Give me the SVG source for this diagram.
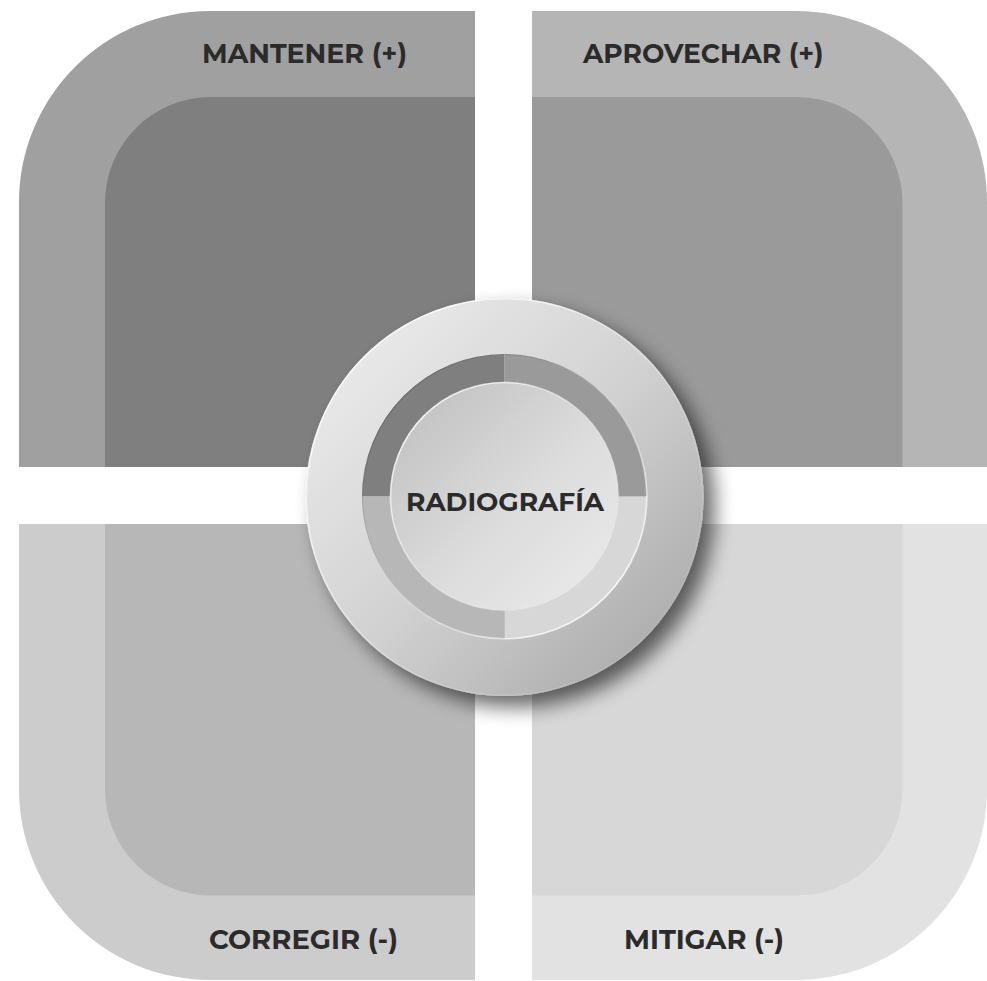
<svg xmlns="http://www.w3.org/2000/svg" width="987" height="981" viewBox="0 0 987 981">
  <defs>
    <style>
      .lbl { font-family: "Montserrat", "Liberation Sans", "DejaVu Sans", sans-serif; font-weight: 700; fill: #2b2b2b; }
    </style>
    <filter id="shadow" x="-30%" y="-30%" width="160%" height="160%">
      <feGaussianBlur in="SourceAlpha" stdDeviation="10"/>
      <feOffset dx="11" dy="11" result="b"/>
      <feComponentTransfer><feFuncA type="linear" slope="0.6"/></feComponentTransfer>
      <feMerge><feMergeNode/><feMergeNode in="SourceGraphic"/></feMerge>
    </filter>
    <linearGradient id="outerG" x1="0" y1="0" x2="1" y2="1">
      <stop offset="0" stop-color="#f1f1f1"/>
      <stop offset="0.5" stop-color="#d2d2d2"/>
      <stop offset="1" stop-color="#a2a2a2"/>
    </linearGradient>
    <linearGradient id="innerG" x1="0" y1="0" x2="1" y2="1">
      <stop offset="0" stop-color="#bdbdbd"/>
      <stop offset="0.55" stop-color="#dcdcdc"/>
      <stop offset="1" stop-color="#ececec"/>
    </linearGradient>
    <linearGradient id="hiTL" x1="0" y1="0" x2="1" y2="1">
      <stop offset="0" stop-color="#ffffff" stop-opacity="1"/>
      <stop offset="0.6" stop-color="#ffffff" stop-opacity="0.2"/>
      <stop offset="1" stop-color="#ffffff" stop-opacity="0"/>
    </linearGradient>
    <linearGradient id="hiBR" x1="0" y1="0" x2="1" y2="1">
      <stop offset="0" stop-color="#ffffff" stop-opacity="0"/>
      <stop offset="0.45" stop-color="#ffffff" stop-opacity="0.2"/>
      <stop offset="1" stop-color="#ffffff" stop-opacity="1"/>
    </linearGradient>
    <linearGradient id="darkTL" x1="0" y1="0" x2="1" y2="1">
      <stop offset="0" stop-color="#000000" stop-opacity="0.35"/>
      <stop offset="0.5" stop-color="#000000" stop-opacity="0"/>
    </linearGradient>
  </defs>

  <g id="quadrant-mantener">
    <path d="M19,467 V202 A191,191 0 0 1 210,11 H475 V467 Z" fill="#a0a0a0"/>
    <path d="M105,467 V203 A106,106 0 0 1 211,97 H475 V467 Z" fill="#7f7f7f"/>
    <text class="lbl" x="202" y="63" font-size="26.5" textLength="205" lengthAdjust="spacingAndGlyphs">MANTENER (+)</text>
  </g>

  <g id="quadrant-aprovechar">
    <path d="M532,11 H796 A191,191 0 0 1 987,202 V467 H532 Z" fill="#b5b5b5"/>
    <path d="M532,97 H796.5 A106,106 0 0 1 902.5,203 V467 H532 Z" fill="#9a9a9a"/>
    <text class="lbl" x="583" y="62.5" font-size="26.5" textLength="240.5" lengthAdjust="spacingAndGlyphs">APROVECHAR (+)</text>
  </g>

  <g id="quadrant-corregir">
    <path d="M19,524 V789 A191,191 0 0 0 210,980 H475 V524 Z" fill="#cccccc"/>
    <path d="M105,524 V789.5 A106,106 0 0 0 211,895.5 H475 V524 Z" fill="#b7b7b7"/>
    <text class="lbl" x="209" y="949.3" font-size="26.5" textLength="189" lengthAdjust="spacingAndGlyphs">CORREGIR (-)</text>
  </g>

  <g id="quadrant-mitigar">
    <path d="M532,524 V980 H796 A191,191 0 0 0 987,789 V524 Z" fill="#e2e2e2"/>
    <path d="M532,524 V895.5 H796.5 A106,106 0 0 0 902.5,789.5 V524 Z" fill="#d7d7d7"/>
    <text class="lbl" x="624" y="949.3" font-size="26.5" textLength="160" lengthAdjust="spacingAndGlyphs">MITIGAR (-)</text>
  </g>

  <g id="center-radiografia">
    <circle cx="504.5" cy="497" r="199" fill="url(#outerG)" filter="url(#shadow)"/>
    <circle cx="504.5" cy="497" r="198.3" fill="none" stroke="url(#hiTL)" stroke-width="1.5"/>
    <path d="M362,496.5 A142.5,142.5 0 0 1 504.5,354 L504.5,382.5 A114,114 0 0 0 390.5,496.5 Z" fill="#7f7f7f"/>
    <path d="M504.5,354 A142.5,142.5 0 0 1 647,496.5 L618.5,496.5 A114,114 0 0 0 504.5,382.5 Z" fill="#9a9a9a"/>
    <path d="M647,496.5 A142.5,142.5 0 0 1 504.5,639 L504.5,610.5 A114,114 0 0 0 618.5,496.5 Z" fill="#d7d7d7"/>
    <path d="M504.5,639 A142.5,142.5 0 0 1 362,496.5 L390.5,496.5 A114,114 0 0 0 504.5,610.5 Z" fill="#b7b7b7"/>
    <circle cx="504.5" cy="496.5" r="142" fill="none" stroke="url(#darkTL)" stroke-width="1.2"/>
    <circle cx="504.5" cy="496.5" r="142.3" fill="none" stroke="url(#hiBR)" stroke-width="1.6"/>
    <circle cx="504.5" cy="496.5" r="114" fill="url(#innerG)"/>
    <circle cx="504.5" cy="496.5" r="114" fill="none" stroke="url(#hiTL)" stroke-width="1.6"/>
    <text class="lbl" x="406" y="510.7" font-size="25.5" textLength="198" lengthAdjust="spacingAndGlyphs">RADIOGRAFÍA</text>
  </g>

  <g id="connectors"/>
</svg>
